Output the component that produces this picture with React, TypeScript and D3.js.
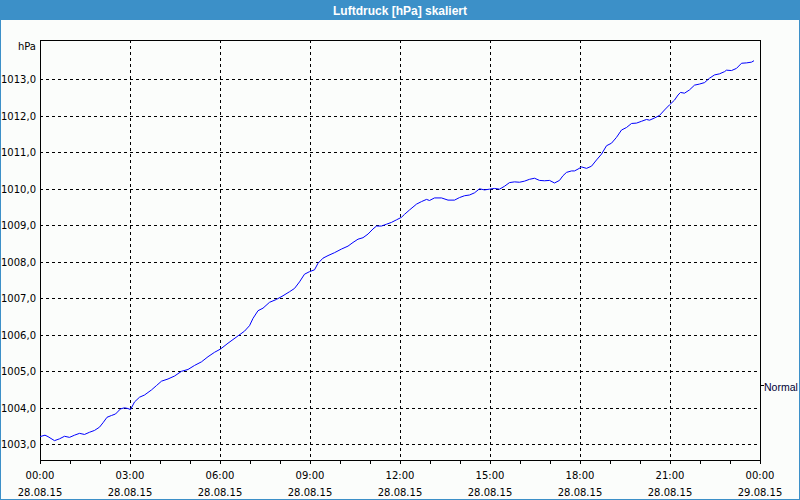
import React from "react";
import * as d3 from "d3";

const minutes = [0,10,16,29,39,49,59,69,79,89,99,109,119,126,134,143,151,161,169,176,181,189,199,209,223,233,243,256,269,283,296,309,323,336,349,361,376,396,409,419,426,436,446,459,473,486,499,509,519,529,539,549,556,566,576,589,603,616,626,636,646,656,666,673,683,693,703,713,723,729,739,753,763,773,779,789,803,816,829,839,849,859,869,879,889,899,909,919,929,939,949,959,969,979,989,999,1009,1019,1029,1039,1046,1053,1063,1069,1076,1083,1093,1103,1113,1123,1133,1143,1153,1163,1173,1183,1193,1203,1213,1219,1229,1239,1249,1259,1269,1276,1281,1289,1299,1309,1319,1329,1339,1349,1359,1369,1373,1383,1393,1403,1413,1423,1428];

const pressure = [1003.21,1003.25,1003.21,1003.10,1003.15,1003.22,1003.19,1003.25,1003.30,1003.27,1003.33,1003.38,1003.47,1003.59,1003.74,1003.79,1003.83,1003.97,1004.00,1003.98,1003.95,1004.16,1004.29,1004.35,1004.49,1004.61,1004.73,1004.79,1004.87,1005.00,1005.05,1005.16,1005.26,1005.40,1005.52,1005.61,1005.77,1005.97,1006.10,1006.25,1006.45,1006.66,1006.73,1006.89,1006.97,1007.07,1007.18,1007.27,1007.45,1007.66,1007.73,1007.78,1007.96,1008.10,1008.17,1008.25,1008.35,1008.43,1008.53,1008.62,1008.66,1008.76,1008.90,1008.98,1008.98,1009.03,1009.08,1009.15,1009.22,1009.30,1009.42,1009.58,1009.65,1009.71,1009.68,1009.75,1009.75,1009.69,1009.69,1009.76,1009.81,1009.83,1009.89,1010.00,1009.97,1009.99,1010.01,1009.99,1010.07,1010.17,1010.19,1010.18,1010.21,1010.26,1010.29,1010.23,1010.22,1010.23,1010.16,1010.23,1010.36,1010.45,1010.49,1010.49,1010.54,1010.60,1010.56,1010.62,1010.79,1010.95,1011.18,1011.25,1011.41,1011.61,1011.68,1011.79,1011.80,1011.85,1011.90,1011.88,1011.94,1012.01,1012.16,1012.30,1012.43,1012.57,1012.64,1012.62,1012.71,1012.84,1012.87,1012.91,1013.03,1013.12,1013.15,1013.21,1013.25,1013.24,1013.30,1013.44,1013.45,1013.47,1013.51];

const yTicks = [1003,1004,1005,1006,1007,1008,1009,1010,1011,1012,1013];
const xTickTimes = ["00:00","03:00","06:00","09:00","12:00","15:00","18:00","21:00","00:00"];
const xTickDates = ["28.08.15","28.08.15","28.08.15","28.08.15","28.08.15","28.08.15","28.08.15","28.08.15","29.08.15"];
const title = "Luftdruck [hPa] skaliert";
const unit = "hPa";
const seriesName = "Normal";

const W = 800, H = 500;
const L = 40, R = 760, T = 40, B = 460;
const BLUE = "#3c90c8";
const FONT = "'DejaVu Sans', Verdana, sans-serif";

export default function App() {
  const start = new Date(2015, 7, 28, 0, 0);
  const end = new Date(2015, 7, 29, 0, 0);
  const x = d3.scaleTime().domain([start, end]).range([L, R]);
  const y = d3.scaleLinear().domain([1002.57, 1014.077]).range([B, T]);
  const majorTicks = d3.timeHour.every(3)!.range(start, d3.timeMinute.offset(end, 1));
  const minorTicks = d3.timeHour.every(1)!.range(start, d3.timeMinute.offset(end, 1));
  const data = minutes.map((m, i) => ({ t: d3.timeMinute.offset(start, m), v: pressure[i] }));
  const line = d3.line<{ t: Date; v: number }>().x(d => x(d.t)).y(d => y(d.v));
  const px = (v: number) => Math.round(v) + 0.5;

  return (
    <div style={{ position: "absolute", left: 0, top: 0 }}>
      <svg width={W} height={H} style={{ display: "block" }}>
        <rect x={0} y={0} width={W} height={H} fill="#fbfdfb" />
        <rect x={0} y={0} width={W} height={20} fill={BLUE} />
        <rect x={0.5} y={0.5} width={W - 1} height={H - 1} fill="none" stroke={BLUE} />
        <text x={400} y={15} textAnchor="middle" fill="#ffffff" fontFamily="'Liberation Sans', Arial, sans-serif" fontWeight="bold" fontSize={12}>{title}</text>

        {/* grid */}
        <g shapeRendering="crispEdges" stroke="#000" strokeDasharray="3,3">
          {yTicks.map(v => (
            <line key={"gy" + v} x1={L} x2={R} y1={px(y(v))} y2={px(y(v))} />
          ))}
          {majorTicks.slice(1, -1).map((d, i) => (
            <line key={"gx" + i} x1={px(x(d))} x2={px(x(d))} y1={T} y2={B} />
          ))}
        </g>

        {/* frame */}
        <rect x={L + 0.5} y={T + 0.5} width={R - L} height={B - T} fill="none" stroke="#000" shapeRendering="crispEdges" />

        {/* minor ticks */}
        <g stroke="#000" shapeRendering="crispEdges">
          {minorTicks.map((d, i) => (
            <line key={"mt" + i} x1={px(x(d))} x2={px(x(d))} y1={B} y2={B + 4} />
          ))}
        </g>

        {/* y labels */}
        <g fontFamily={FONT} fontSize={10} fill="#000">
          <text x={36} y={50} textAnchor="end">{unit}</text>
          {yTicks.map(v => (
            <text key={"yl" + v} x={36} y={y(v) + 4} textAnchor="end">{d3.format(".1f")(v).replace(".", ",")}</text>
          ))}
          {majorTicks.map((d, i) => (
            <g key={"xl" + i}>
              <text x={x(d)} y={479} textAnchor="middle">{xTickTimes[i]}</text>
              <text x={x(d)} y={496} textAnchor="middle">{xTickDates[i]}</text>
            </g>
          ))}
        </g>

        {/* data */}
        <path d={line(data) || ""} fill="none" stroke="#0000ff" strokeWidth={1} />

        {/* legend */}
        <line x1={R} x2={R + 4} y1={385.5} y2={385.5} stroke="#000" shapeRendering="crispEdges" />
        <text x={764} y={391} fontFamily="'Liberation Sans', Arial, sans-serif" fontSize={10.5} fill="#000033">{seriesName}</text>
      </svg>
    </div>
  );
}
